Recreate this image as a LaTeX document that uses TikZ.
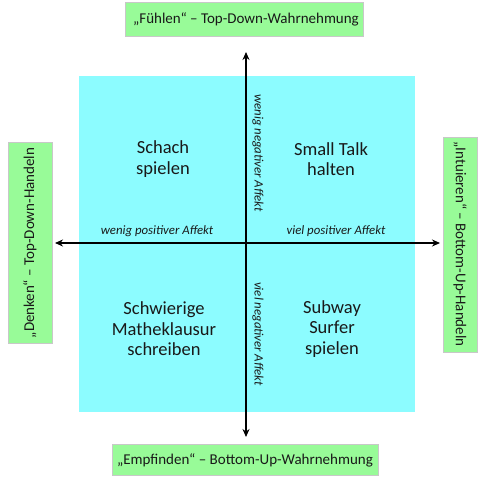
\documentclass[tikz,border=0pt]{standalone}
\usepackage{fontspec}
\setmainfont{Carlito}
\usetikzlibrary{arrows.meta}
\definecolor{quadcyan}{RGB}{140,252,255}
\definecolor{boxgreen}{RGB}{152,251,152}
\definecolor{boxborder}{RGB}{200,200,200}
\definecolor{txt}{RGB}{25,25,25}
\tikzset{
  x=1pt, y=-1pt,
  labelbox/.style={draw=boxborder, fill=boxgreen, line width=0.8pt},
  labeltext/.style={font=\fontsize{15}{18}\selectfont, text=txt, inner sep=0pt},
  quadtext/.style={font=\fontsize{18.5}{20.5}\selectfont, text=txt, align=center, inner sep=0pt},
  axislabel/.style={font=\fontsize{12.8}{14}\selectfont\itshape, text=txt, inner sep=0pt},
  axis/.style={line width=2pt, {Stealth[length=8pt,width=7pt]}-{Stealth[length=8pt,width=7pt]}},
}
\begin{document}
\begin{tikzpicture}
\useasboundingbox (0,0) rectangle (481,480);
% quadrant background
\fill[quadcyan] (79,76) rectangle (415,412);
% label boxes
\draw[labelbox] (125,2) rectangle (363,36);
\node[labeltext] (top) at (246,19) {„Fühlen“ – Top-Down-Wahrnehmung};
\draw[labelbox] (112,444) rectangle (378,475);
\node[labeltext] (bottom) at (245,460) {„Empfinden“ – Bottom-Up-Wahrnehmung};
\draw[labelbox] (8,142) rectangle (52,343);
\node[labeltext, rotate=90] (left) at (30,243) {„Denken“ – Top-Down-Handeln};
\draw[labelbox] (443,137) rectangle (477,352);
\node[labeltext, rotate=-90] (right) at (460,244) {„Intuieren“ – Bottom-Up-Handeln};
% axes
\coordinate (L) at (55,243);
\coordinate (R) at (440,243);
\coordinate (T) at (246,52);
\coordinate (B) at (246,437);
\draw[axis] (L) -- (R);
\draw[axis] (T) -- (B);
% axis labels
\node[axislabel] (wpa) at (157,231) {wenig positiver Affekt};
\node[axislabel] (vpa) at (336,231) {viel positiver Affekt};
\node[axislabel, rotate=-90] (wna) at (258,153) {wenig negativer Affekt};
\node[axislabel, rotate=-90] (vna) at (258,334) {viel negativer Affekt};
% quadrant texts
\node[quadtext] (q1) at (163,159) {Schach\\spielen};
\node[quadtext] (q2) at (331,159) {Small Talk\\halten};
\node[quadtext] (q3) at (164,329) {Schwierige\\Matheklausur\\schreiben};
\node[quadtext] (q4) at (332,329) {Subway\\Surfer\\spielen};
\end{tikzpicture}
\end{document}
